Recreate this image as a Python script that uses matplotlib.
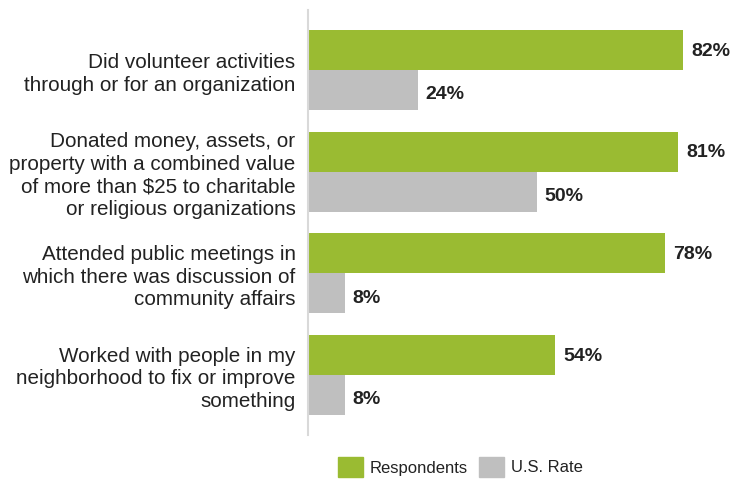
import matplotlib.pyplot as plt
import matplotlib.patches as mpatches
import numpy as np

plt.rcParams["font.family"] = ["Liberation Sans", "DejaVu Sans"]

CATEGORIES = [
    "Did volunteer activities\nthrough or for an organization",
    "Donated money, assets, or\nproperty with a combined value\nof more than $25 to charitable\nor religious organizations",
    "Attended public meetings in\nwhich there was discussion of\ncommunity affairs",
    "Worked with people in my\nneighborhood to fix or improve\nsomething",
]
RESPONDENTS = [82, 81, 78, 54]
US_RATE = [24, 50, 8, 8]
SERIES = ["Respondents", "U.S. Rate"]

GREEN = "#9abb32"
GRAY = "#bfbfbf"
TEXT = "#222222"

fig = plt.figure(figsize=(7.5, 5), dpi=100)
ax = fig.add_axes([308 / 750, 1 - 435 / 500, 1 - 308 / 750, 425 / 500])

y = np.arange(len(CATEGORIES))
h = 0.393
ax.barh(y - h / 2, RESPONDENTS, height=h, color=GREEN, label=SERIES[0])
ax.barh(y + h / 2, US_RATE, height=h, color=GRAY, label=SERIES[1])

# value labels; the grey ones sit a little lower in the original
for yi, v in zip(y - h / 2, RESPONDENTS):
    ax.annotate(f"{v}%", (v, yi), xytext=(8, -1), textcoords="offset pixels",
                va="center", ha="left", fontsize=14, fontweight="bold", color=TEXT)
for yi, v in zip(y + h / 2, US_RATE):
    ax.annotate(f"{v}%", (v, yi), xytext=(8, -5), textcoords="offset pixels",
                va="center", ha="left", fontsize=14, fontweight="bold", color=TEXT)

ax.set_xlim(0, 96.65)
ax.set_ylim(3.59, -0.59)
ax.set_yticks(y)
ax.set_yticklabels(CATEGORIES, fontsize=14.9, color=TEXT, linespacing=1.24)
ax.tick_params(axis="y", length=0, pad=9)
ax.set_xticks([])
for s in ["top", "right", "bottom"]:
    ax.spines[s].set_visible(False)
ax.spines["left"].set_color("#d9d9d9")
ax.spines["left"].set_linewidth(1.5)

handles = [mpatches.Patch(color=GREEN), mpatches.Patch(color=GRAY)]
fig.legend(handles, SERIES, loc="center", bbox_to_anchor=(0.614, 0.066), ncol=2,
           frameon=False, fontsize=12, handlelength=1.5, handleheight=1.5,
           handletextpad=0.4, columnspacing=0.7, labelcolor=TEXT)

fig.savefig("out.png", dpi=100)
